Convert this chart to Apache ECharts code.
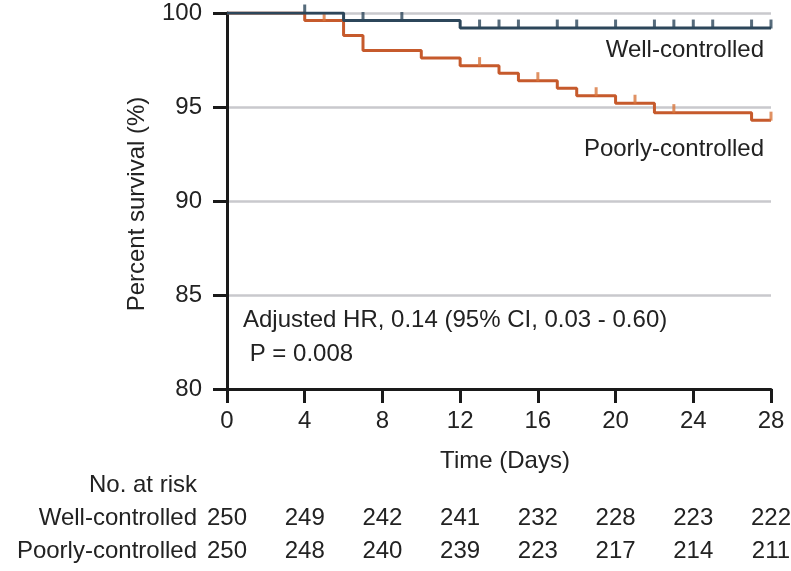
<!DOCTYPE html>
<html>
<head>
<meta charset="utf-8">
<script src="https://cdn.jsdelivr.net/npm/echarts@6/dist/echarts.min.js"></script>
<style>
html,body{margin:0;padding:0;background:#fff;}
#c{width:791px;height:571px;}
</style>
</head>
<body>
<div id="c"></div>
<script>
// ---- data ----
const wellTimes = [0, 6, 12, 28];
const wellSurv = [100, 99.6, 99.2, 99.2];
const wellCensor = [4, 7, 9, 13, 14, 15, 17, 18, 20, 22, 23, 24, 25, 27, 28];
const poorTimes = [0, 4, 6, 7, 10, 12, 14, 15, 17, 18, 20, 22, 27, 28];
const poorSurv = [100, 99.6, 98.8, 98.0, 97.6, 97.2, 96.8, 96.4, 96.0, 95.6, 95.2, 94.7, 94.3, 94.3];
const poorCensor = [5, 13, 16, 19, 21, 23, 28];
const riskDays = [0, 4, 8, 12, 16, 20, 24, 28];
const riskWell = [250, 249, 242, 241, 232, 228, 223, 222];
const riskPoor = [250, 248, 240, 239, 223, 217, 214, 211];
const yTicks = [80, 85, 90, 95, 100];
const xTicks = [0, 4, 8, 12, 16, 20, 24, 28];

const FONT = 'Liberation Sans, Arial, Helvetica, sans-serif';
const TXT = '#222222';
const BLUE = '#2c465a';
const ORANGE = '#c65a2c';
const ORANGE_T = '#d8763c';

function survAt(times, surv, t) {
  let s = surv[0];
  for (let i = 0; i < times.length; i++) { if (times[i] <= t) s = surv[i]; }
  return s;
}
const pairs = (a, b) => a.map((t, i) => [t, b[i]]);
const censorPts = (c, times, surv) => c.map(t => [t, survAt(times, surv, t)]);

const chart = echarts.init(document.getElementById('c'), null, {renderer: 'canvas'});
const tickSym = {type: 'scatter', symbol: 'rect', symbolSize: [3, 9], symbolOffset: [0, -4], silent: true};

chart.setOption({
  animation: false,
  backgroundColor: '#ffffff',
  grid: {left: 227, right: 20, top: 13, bottom: 182},
  xAxis: {
    type: 'value', min: 0, max: 28, interval: 4,
    axisLine: {show: true, lineStyle: {color: '#1a1a1a', width: 3}},
    axisTick: {show: true, length: 14, lineStyle: {color: '#1a1a1a', width: 3}},
    axisLabel: {fontSize: 24, color: TXT, fontFamily: FONT, margin: 20,
      formatter: v => xTicks.includes(v) ? String(v) : ''},
    splitLine: {show: false}
  },
  yAxis: {
    type: 'value', min: 80, max: 100, interval: 5,
    axisLine: {show: true, lineStyle: {color: '#1a1a1a', width: 3}},
    axisTick: {show: true, length: 14, lineStyle: {color: '#1a1a1a', width: 3}},
    axisLabel: {fontSize: 24, color: TXT, fontFamily: FONT, margin: 25,
      formatter: v => yTicks.includes(v) ? String(v) : ''},
    splitLine: {show: true, lineStyle: {color: '#c9c9cd', width: 2.5}}
  },
  series: [
    {type: 'line', name: 'Poorly-controlled', step: 'end', symbol: 'none', data: pairs(poorTimes, poorSurv),
      lineStyle: {color: ORANGE, width: 3}, z: 2},
    {type: 'line', name: 'Well-controlled', step: 'end', symbol: 'none', data: pairs(wellTimes, wellSurv),
      lineStyle: {color: BLUE, width: 3}, z: 3},
    Object.assign({}, tickSym, {data: censorPts(poorCensor, poorTimes, poorSurv), itemStyle: {color: ORANGE_T}, z: 2}),
    Object.assign({}, tickSym, {data: censorPts(wellCensor, wellTimes, wellSurv), itemStyle: {color: BLUE}, z: 3})
  ]
});

const g = [];
const T = (text, x, y, align, extra) => g.push(Object.assign({
  type: 'text', x: x, y: y,
  style: {text: text, fontSize: 24, fontFamily: FONT, fill: TXT, align: align, verticalAlign: 'middle'}
}, extra || {}));

T('Percent survival (%)', 137, 204, 'center', {rotation: Math.PI / 2});
T('Time (Days)', 505, 461, 'center');
T('Well-controlled', 764, 50, 'right');
T('Poorly-controlled', 764, 149, 'right');
T('Adjusted HR, 0.14 (95% CI, 0.03 - 0.60)', 243, 320, 'left');
T(' P = 0.008', 243, 354, 'left');
T('No. at risk', 197, 485, 'right');
T('Well-controlled', 197, 518, 'right');
T('Poorly-controlled', 197, 551, 'right');
riskDays.forEach((d, i) => {
  const x = chart.convertToPixel({gridIndex: 0}, [d, 80])[0];
  T(String(riskWell[i]), x, 518, 'center');
  T(String(riskPoor[i]), x, 551, 'center');
});
chart.setOption({graphic: g});
</script>
</body>
</html>
